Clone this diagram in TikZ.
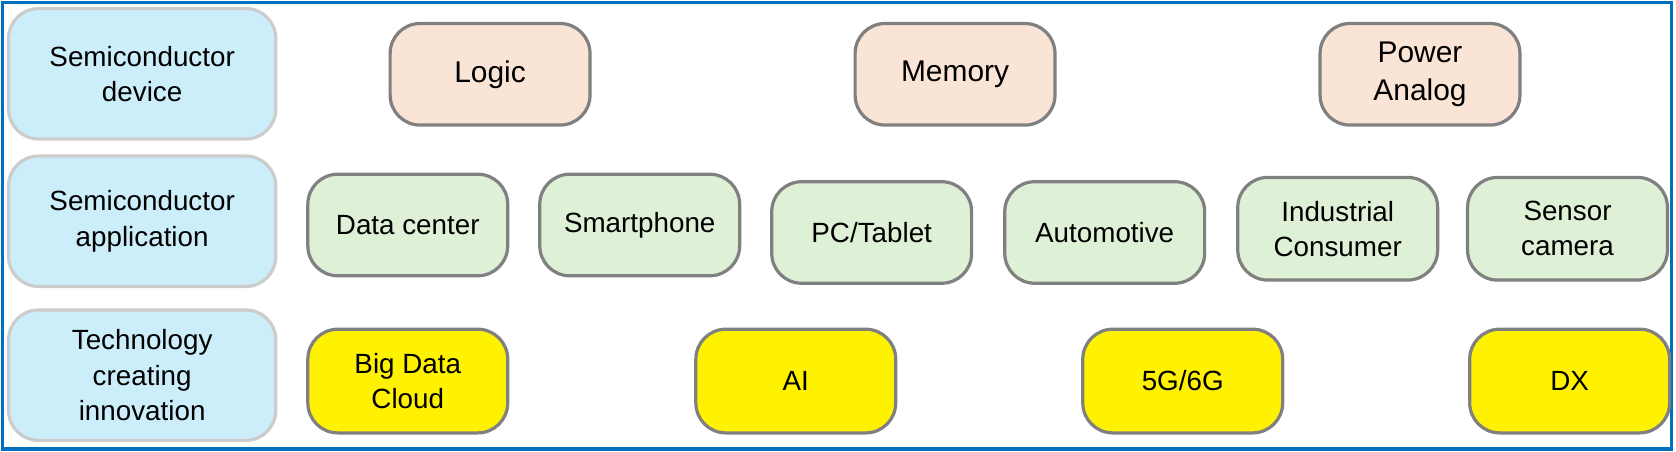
\documentclass[tikz,border=0pt]{standalone}
\usepackage{fontspec}
\setmainfont{Liberation Sans}
\definecolor{pinkf}{RGB}{250,228,214}
\definecolor{greenf}{RGB}{222,240,214}
\definecolor{bluef}{RGB}{204,238,250}
\begin{document}
\begin{tikzpicture}[x=1pt,y=-1pt,
 box/.style={draw=black!50,line width=3pt,rounded corners=28pt,align=center,inner sep=0pt,font=\fontsize{26}{33}\selectfont},
 cat/.style={box,draw=black!20,fill=bluef},
 dev/.style={box,fill=pinkf,font=\fontsize{28}{36}\selectfont},
 app/.style={box,fill=greenf},
 tech/.style={box,fill=yellow}]
\useasboundingbox (0,0) rectangle (1568,422);
\draw[draw={rgb,255:red,0;green,112;blue,192},line width=3pt] (2,2) rectangle (1564,420);
\newcommand\bx[6]{\node[#1,minimum width=#4-#3,minimum height=#6-#5] (#2) at ({(#3+#4)/2},{(#5+#6)/2})}
\bx{cat}{c1}{8}{258}{8}{130}{Semiconductor\\device};
\bx{cat}{c2}{8}{258}{146}{268}{Semiconductor\\application};
\bx{cat}{c3}{8}{258}{290}{412}{Technology\\creating\\innovation};
\bx{dev}{d1}{365}{552}{22}{117}{Logic};
\bx{dev}{d2}{800}{987}{22}{117}{Memory};
\bx{dev}{d3}{1235}{1422}{22}{117}{Power\\Analog};
\bx{app}{a1}{288}{475}{163}{258}{Data center};
\bx{app}{a2}{505}{692}{163}{258}{Smartphone};
\bx{app}{a3}{722}{909}{170}{265}{PC/Tablet};
\bx{app}{a4}{940}{1127}{170}{265}{Automotive};
\bx{app}{a5}{1158}{1345}{166}{262}{Industrial\\Consumer};
\bx{app}{a6}{1373}{1560}{166}{262}{Sensor\\camera};
\bx{tech}{t1}{288}{475}{308}{405}{Big Data\\Cloud};
\bx{tech}{t2}{651}{838}{308}{405}{AI};
\bx{tech}{t3}{1013}{1200}{308}{405}{5G/6G};
\bx{tech}{t4}{1375}{1562}{308}{405}{DX};
\end{tikzpicture}
\end{document}
